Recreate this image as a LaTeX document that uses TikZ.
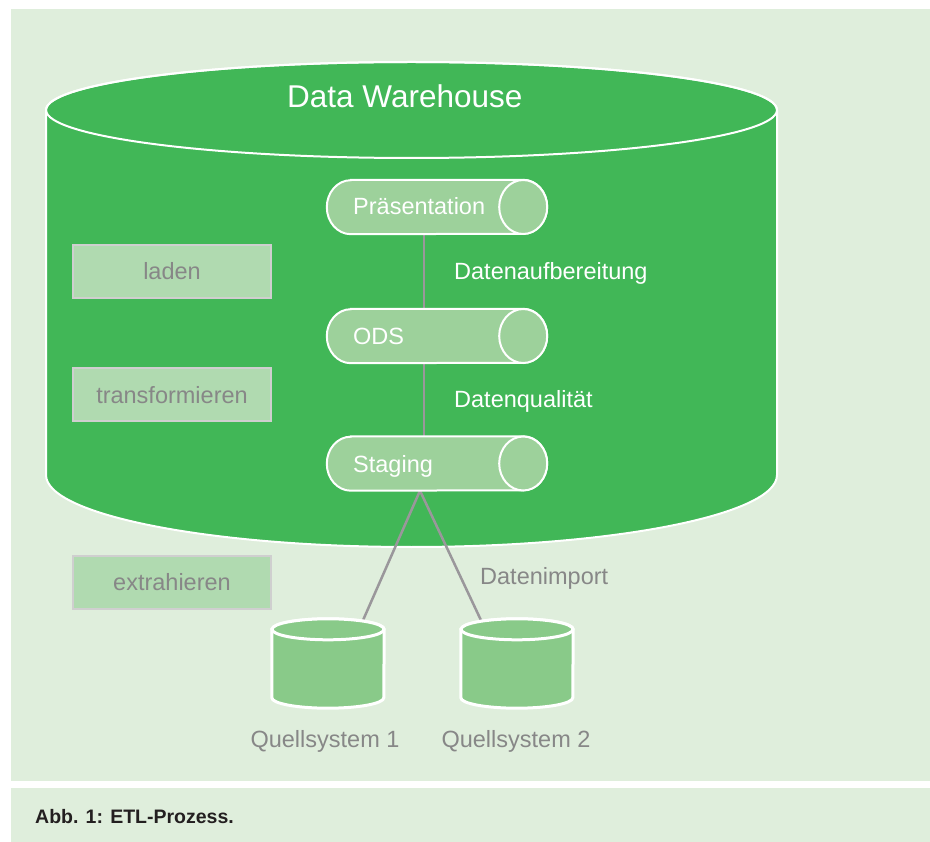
\documentclass[tikz,border=0pt]{standalone}
\usepackage{fontspec}
\setmainfont{Liberation Sans}
\definecolor{panel}{HTML}{DFEEDC}
\definecolor{dwgreen}{HTML}{41B757}
\definecolor{layerfill}{HTML}{9DD19B}
\definecolor{stepfill}{HTML}{B0DAB0}
\definecolor{stepline}{HTML}{CFCFCF}
\definecolor{srcfill}{HTML}{89CA89}
\definecolor{greytext}{HTML}{878787}
\definecolor{linkgrey}{HTML}{9A979B}
\definecolor{captext}{HTML}{231F20}
\newcommand\fs[1]{\fontsize{#1}{#1}\selectfont}
\tikzset{
  lbl/.style={inner sep=0pt, anchor=base west, font=\fs{23.5}},
  whitelbl/.style={lbl, text=white},
  greylbl/.style={lbl, text=greytext},
  stepbox/.style={draw=stepline, line width=2pt, fill=stepfill, text=greytext,
    minimum width=198pt, minimum height=53pt, inner sep=0pt,
    font=\fs{23.5}, text height=17pt, text depth=0pt},
  layerbox/.style={minimum width=220pt, minimum height=54pt, inner sep=0pt},
  srcbox/.style={minimum width=112pt, minimum height=89pt, inner sep=0pt},
  link/.style={draw=linkgrey, line width=2.5pt},
  layer/.style={fill=layerfill, draw=white, line width=2pt},
  src/.style={fill=srcfill, draw=white, line width=3pt},
}
% horizontal cylinder drawn inside a named box
\newcommand\hcyl[1]{%
  \path[layer] ([xshift=24pt]#1.north west) -- ([xshift=-24pt]#1.north east)
    arc[start angle=90, end angle=-90, x radius=24pt, y radius=27pt]
    -- ([xshift=24pt]#1.south west)
    arc[start angle=270, end angle=90, x radius=24pt, y radius=27pt] -- cycle;
  \path[layer] ([xshift=-24pt]#1.east) ellipse[x radius=24pt, y radius=27pt];
}
% upright source cylinder drawn inside a named box
\newcommand\vcyl[1]{%
  \path[src] ([yshift=-10.5pt]#1.north west) -- ([yshift=10.5pt]#1.south west)
    arc[start angle=180, end angle=360, x radius=56pt, y radius=10.5pt]
    -- ([yshift=-10.5pt]#1.north east)
    arc[start angle=0, end angle=180, x radius=56pt, y radius=10.5pt] -- cycle;
  \path[src] ([yshift=-10.5pt]#1.north) ellipse[x radius=56pt, y radius=10.5pt];
}
\begin{document}
\begin{tikzpicture}[x=1pt, y=-1pt]
\useasboundingbox (0,0) rectangle (930,842);
\fill[white] (0,0) rectangle (930,842);
\fill[panel] (11,9) rectangle (930,781);
\fill[panel] (11,788) rectangle (930,842);

% data warehouse drum
\path[fill=dwgreen, draw=white, line width=2pt]
  (46,110) -- (46,475)
  arc[start angle=180, end angle=360, x radius=365.5pt, y radius=72pt]
  -- (777,110)
  arc[start angle=0, end angle=180, x radius=365.5pt, y radius=48pt] -- cycle;
\draw[white, line width=2pt] (411.5,110) ellipse[x radius=365.5pt, y radius=48pt];
\node[whitelbl, font=\fs{31.5}] (dwtitle) at (287,108) {Data Warehouse};

% layer boxes
\node[layerbox] (pres) at (437,207) {};
\node[layerbox] (ods) at (437,336) {};
\node[layerbox] (stg) at (437,463.5) {};
\node[srcbox] (q1) at (328,663.5) {};
\node[srcbox] (q2) at (517,663.5) {};

% connectors
\draw[link] ([xshift=-13pt]pres.south) -- ([xshift=-13pt]ods.north);
\draw[link] ([xshift=-13pt]ods.south) -- ([xshift=-13pt]stg.north);
\draw[link] ([xshift=35pt,yshift=-1.5pt]q1.north) -- ([xshift=-17pt]stg.south)
  -- ([xshift=-36pt,yshift=-1.5pt]q2.north);

% cylinders
\hcyl{pres}
\hcyl{ods}
\hcyl{stg}
\vcyl{q1}
\vcyl{q2}

\node[whitelbl] (presl) at (353,215) {Präsentation};
\node[whitelbl] (odsl) at (353,345) {ODS};
\node[whitelbl] (stgl) at (353,472) {Staging};
\node[whitelbl] (aufb) at (454,280) {Datenaufbereitung};
\node[whitelbl] (qual) at (454,408) {Datenqualität};
\node[greylbl] (imp) at (480,584) {Datenimport};

% process steps
\node[stepbox] (laden) at (172,271.5) {laden};
\node[stepbox] (trans) at (172,395) {transformieren};
\node[stepbox] (extr) at (172,582) {extrahieren};

% source labels
\node[greylbl, anchor=base] (q1l) at (325,747) {Quellsystem 1};
\node[greylbl, anchor=base] (q2l) at (516,747) {Quellsystem 2};

% caption
\node[lbl, text=captext, font=\bfseries\fs{19.5}] (cap) at (35,823) {Abb. 1: ETL-Prozess.};
\end{tikzpicture}
\end{document}
